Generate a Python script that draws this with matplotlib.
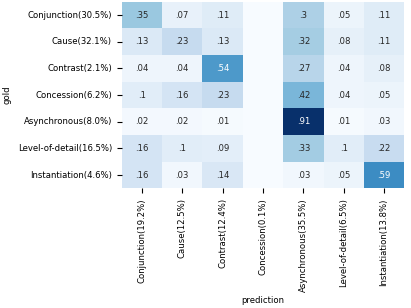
import numpy as np
import matplotlib
matplotlib.use("Agg")
import matplotlib.pyplot as plt
import seaborn as sns

gold_labels = ["Conjunction(30.5%)", "Cause(32.1%)", "Contrast(2.1%)", "Concession(6.2%)",
               "Asynchronous(8.0%)", "Level-of-detail(16.5%)", "Instantiation(4.6%)"]
pred_labels = ["Conjunction(19.2%)", "Cause(12.5%)", "Contrast(12.4%)", "Concession(0.1%)",
               "Asynchronous(35.5%)", "Level-of-detail(6.5%)", "Instantiation(13.8%)"]

conjunction = [.35, .07, .11, 0, .30, .05, .11]
cause = [.13, .23, .13, 0, .32, .08, .11]
contrast = [.04, .04, .54, 0, .27, .04, .08]
concession = [.10, .16, .23, 0, .42, .04, .05]
asynchronous = [.02, .02, .01, 0, .91, .01, .03]
level_of_detail = [.16, .10, .09, 0, .33, .10, .22]
instantiation = [.16, .03, .14, 0, .03, .05, .59]

mat = np.array([conjunction, cause, contrast, concession, asynchronous,
                level_of_detail, instantiation])


def fmt(v):
    if v == 0:
        return ""
    s = f"{v:.2f}".rstrip("0")
    return s[1:] if s.startswith("0") else s


annot = np.array([[fmt(v) for v in row] for row in mat])

fs = 6.1
fig = plt.figure(figsize=(4.11, 3.08), dpi=100)
ax = fig.add_axes([0.296, 0.388, 0.6877, 0.6065])
sns.heatmap(mat, ax=ax, cmap="Blues", vmin=0, annot=annot, fmt="", cbar=False,
            annot_kws={"fontsize": fs}, xticklabels=pred_labels, yticklabels=gold_labels)
ax.set_xticklabels(pred_labels, rotation=90, fontsize=fs)
ax.set_yticklabels(gold_labels, rotation=0, fontsize=fs)
ax.tick_params(length=3.5, width=0.8, pad=3.5)
ax.set_xlabel("prediction", fontsize=fs)
ax.set_ylabel("gold", fontsize=fs)
ax.xaxis.set_label_coords(0.5, -0.575)
ax.yaxis.set_label_coords(-0.39, 0.5)
fig.savefig("out.png", dpi=100)
